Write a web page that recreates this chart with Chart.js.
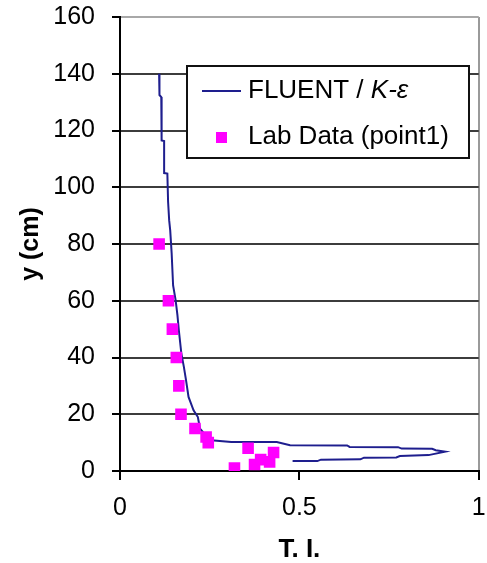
<!DOCTYPE html>
<html>
<head>
<meta charset="utf-8">
<script src="https://cdn.jsdelivr.net/npm/chart.js@4/dist/chart.umd.min.js"></script>
<style>
body{margin:0;background:#fff;}
#wrap{width:487px;height:563px;position:relative;}
</style>
</head>
<body>
<div id="wrap"><canvas id="chart"></canvas></div>
<script>
// FLUENT k-e profile (T.I. vs y)
const fluentTI=[0.109,0.110,0.115,0.116,0.123,0.123,0.132,0.134,0.137,0.140,0.144,0.148,0.155,0.160,0.164,0.171,0.178,0.184,0.191,0.205,0.217,0.223,0.235,0.255,0.310,0.437,0.474,0.633,0.640,0.775,0.785,0.870,0.880,0.906,0.860,0.780,0.770,0.680,0.670,0.560,0.550,0.481];
const fluentY=[140,132.5,131.8,116.5,116.3,105,104.8,95,88.4,84.7,76.6,65.4,60.2,55,49.6,41.4,36.7,32,26.1,21.4,19,14.9,13.2,10.8,10.2,10.2,9.1,9.0,8.5,8.4,7.9,7.8,7.3,6.8,5.6,5.3,4.8,4.7,4.1,4.0,3.5,3.5];
// lab measurements, point 1
const labTI=[0.109,0.135,0.146,0.157,0.164,0.170,0.209,0.240,0.246,0.357,0.428,0.392,0.417,0.375,0.319];
const labY=[80,60,50,40,30,20,15,12,10,8,6.5,4,3.2,2.3,1];
const seriesNames=["FLUENT / ","Lab Data (point1)"];
const xTickValues=[0,0.5,1];
const xTickLabels=["0","0.5","1"];
const yTickValues=[0,20,40,60,80,100,120,140,160];

const LINE_COLOR='#1e1e8e';
const MARK_COLOR='#ff00ff';
const FONT='"Liberation Sans", Arial, sans-serif';

const boxLegend={
  id:'boxLegend',
  afterDraw(chart){
    const ctx=chart.ctx;
    ctx.save();
    ctx.fillStyle='#fff';
    ctx.fillRect(187,66,282,92);
    ctx.strokeStyle='#111';ctx.lineWidth=2;
    ctx.strokeRect(187,66,282,92);
    ctx.strokeStyle=LINE_COLOR;ctx.lineWidth=2;
    ctx.beginPath();ctx.moveTo(202,91);ctx.lineTo(241,91);ctx.stroke();
    ctx.fillStyle=MARK_COLOR;ctx.fillRect(216,132,11,11);
    ctx.fillStyle='#000';ctx.textBaseline='middle';ctx.textAlign='left';
    ctx.font='26px '+FONT;
    ctx.fillText(seriesNames[0],248,91);
    const w=ctx.measureText(seriesNames[0]).width;
    ctx.font='italic 26px '+FONT;
    ctx.fillText('K-ε',248+w,91);
    ctx.font='26px '+FONT;
    ctx.fillText(seriesNames[1],248,137);
    ctx.restore();
  }
};

new Chart(document.getElementById('chart'),{
  type:'scatter',
  data:{datasets:[
    {label:seriesNames[0]+'K-ε',data:fluentTI.map((x,i)=>({x:x,y:fluentY[i]})),showLine:true,borderColor:LINE_COLOR,borderWidth:2,pointRadius:0,tension:0,order:1},
    {label:seriesNames[1],data:labTI.map((x,i)=>({x:x,y:labY[i]})),pointStyle:'rect',pointRadius:8.2,pointBackgroundColor:MARK_COLOR,pointBorderWidth:0,borderWidth:0,order:0}
  ]},
  options:{
    responsive:true,maintainAspectRatio:false,animation:false,
    layout:{padding:{top:17,right:1,left:0,bottom:0}},
    plugins:{legend:{display:false},tooltip:{enabled:false}},
    scales:{
      x:{type:'linear',min:0,max:1,
        afterBuildTicks:s=>{s.ticks=xTickValues.map(v=>({value:v}));},
        afterFit:s=>{s.height=92;s.paddingLeft=0;s.paddingRight=0;},
        ticks:{font:{family:FONT,size:25},color:'#000',padding:13,maxRotation:0,autoSkip:false,
          callback:(v,i)=>xTickLabels[i]},
        grid:{color:c=>c.tick&&c.tick.value===1?'#9a9a9a':'rgba(0,0,0,0)',tickColor:'#000',tickLength:9,lineWidth:2},
        border:{color:'#000',width:2},
        title:{display:true,text:'T. I.',font:{family:FONT,size:26,weight:'bold',lineHeight:1},color:'#000',padding:{top:0,bottom:0}}
      },
      y:{type:'linear',min:0,max:160,
        afterBuildTicks:s=>{s.ticks=yTickValues.map(v=>({value:v}));},
        afterFit:s=>{s.width=120;s.paddingTop=0;s.paddingBottom=0;},
        ticks:{font:{family:FONT,size:25},color:'#000',padding:17},
        grid:{color:c=>c.tick&&c.tick.value===160?'#a8a8a8':'#3c3c3c',tickColor:'#000',tickLength:8,lineWidth:2},
        border:{color:'#000',width:2},
        title:{display:true,text:'y (cm)',font:{family:FONT,size:25,weight:'bold',lineHeight:1.2},color:'#000',padding:{top:16,bottom:0}}
      }
    }
  },
  plugins:[boxLegend]
});
</script>
</body>
</html>
